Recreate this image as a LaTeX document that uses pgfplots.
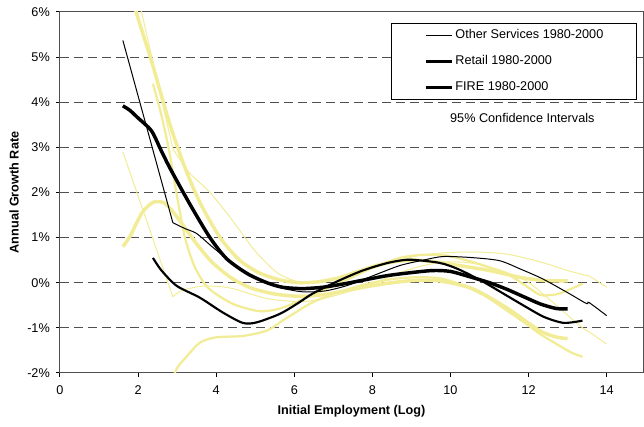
\documentclass[border=0pt]{standalone}
\usepackage{fontspec}
\setmainfont{Liberation Sans}
\usepackage{pgfplots}
\pgfplotsset{compat=1.18}
\definecolor{ciyellow}{RGB}{242,236,150}
\definecolor{gridgray}{RGB}{80,80,80}

\begin{document}
\fontsize{9.5}{11}\selectfont
\begin{tikzpicture}
\begin{axis}[
  scale only axis,
  width=437.25pt, height=270.75pt,
  xmin=0, xmax=14.93, ymin=-2, ymax=6,
  xtick={0,2,...,14},
  ytick={-2,-1,0,1,2,3,4,5,6},
  yticklabels={-2\%,-1\%,0\%,1\%,2\%,3\%,4\%,5\%,6\%},
  /pgf/number format/assume math mode=true,
  tick label style={font=\fontsize{9.5}{11}\selectfont},
  yticklabel style={xshift=-1.3pt},
  xticklabel style={yshift=-3pt},
  xtick pos=lower, ytick pos=left,
  tick align=outside, major tick length=3pt,
  tick style={black, line width=0.75pt},
  axis line style={gridgray, line width=0.75pt},
  ymajorgrids,
  grid style={gridgray, line width=0.75pt, dash pattern=on 7pt off 3.5pt},
  xlabel={\bfseries Initial Employment (Log)},
  ylabel={\bfseries Annual Growth Rate},
  every axis x label/.style={at={(axis description cs:0.5,0)}, anchor=center, yshift=-28.5pt},
  every axis y label/.style={at={(axis description cs:0,0.5)}, xshift=-34.5pt, rotate=90, anchor=center},
  legend style={at={(0.990,0.9695)}, anchor=north east, draw=black, line width=0.75pt,
    fill=white, inner xsep=25pt, inner ysep=4.5pt, row sep=10.5pt, column sep=1.5pt,
    nodes={inner sep=0pt, text height=7pt, text depth=2pt, font=\fontsize{9.5}{11}\selectfont}},
  legend cell align=left,
  legend image code/.code={\draw[#1] (0pt,0pt) -- (19pt,0pt);},
]

% 95% confidence intervals
% Other Services upper / lower (straight first segment, then smooth)
\addplot[ciyellow, line width=0.75pt, forget plot] coordinates {(1.61,7.8) (2.89,2.97)};
\addplot[ciyellow, line width=0.75pt, forget plot, smooth, tension=0.45] coordinates {
 (2.89,2.97) (3.3,2.45) (3.84,2.0) (4.4,1.4) (5.0,0.7)
 (5.6,0.2) (6.2,0.0) (6.8,0.02) (7.4,0.15) (8.0,0.32) (8.7,0.5) (9.3,0.62)
 (10.0,0.67) (10.7,0.68) (11.4,0.64) (12.0,0.53) (12.5,0.41) (13.0,0.27)
 (13.48,0.16) (13.55,0.15) (14.0,-0.1)};
\addplot[ciyellow, line width=0.75pt, forget plot] coordinates {(1.61,2.9) (2.89,-0.31)};
\addplot[ciyellow, line width=0.75pt, forget plot, smooth, tension=0.45] coordinates {
 (2.89,-0.31) (3.1,-0.18) (3.58,-0.08) (4.0,-0.08)
 (4.43,-0.13) (5.3,-0.35) (6.14,-0.42) (6.7,-0.36) (7.3,-0.22) (8.0,-0.02)
 (8.7,0.22) (9.3,0.38) (9.9,0.46) (10.5,0.44) (11.2,0.3) (11.94,0.04)
 (12.6,-0.42) (13.0,-0.72) (13.38,-1.0) (13.48,-1.06) (13.55,-1.09) (14.0,-1.36)};
% Retail upper / lower
\addplot[ciyellow, line width=1.7pt, forget plot, smooth, tension=0.45] coordinates {
 (2.38,4.41) (2.6,3.7) (2.8,2.9) (3.0,1.9) (3.2,1.0) (3.45,0.35) (3.8,-0.12)
 (4.43,-0.47) (5.1,-0.63) (5.6,-0.58) (6.14,-0.4) (6.7,-0.18) (7.3,0.05)
 (8.0,0.33) (8.7,0.55) (9.3,0.62) (9.9,0.6) (10.6,0.45) (11.43,0.2)
 (11.9,-0.05) (12.3,-0.27) (12.7,-0.26) (13.0,-0.17) (13.38,-0.02)};
\addplot[ciyellow, line width=1.7pt, forget plot, smooth, tension=0.45] coordinates {
 (2.38,-3.4) (2.94,-2.0) (3.2,-1.68) (3.58,-1.33) (4.0,-1.21) (4.68,-1.18)
 (5.3,-1.06) (5.7,-0.84) (6.14,-0.6) (6.5,-0.42) (7.0,-0.25) (7.75,-0.05)
 (8.5,0.08) (9.1,0.12) (9.72,0.1) (10.3,-0.05) (10.9,-0.3) (11.5,-0.65)
 (12.0,-0.95) (12.28,-1.13) (12.7,-1.35) (13.1,-1.55) (13.38,-1.64)};
% FIRE upper / lower
\addplot[ciyellow, line width=2.6pt, forget plot, smooth, tension=0.45] coordinates {
 (1.61,7.1) (1.95,6.0) (2.34,4.92) (2.8,3.55) (3.2,2.55) (3.6,1.75) (4.1,1.0)
 (4.6,0.5) (5.1,0.22) (5.6,0.07) (6.1,0.0) (6.6,0.02) (7.1,0.1) (7.6,0.24)
 (8.1,0.38) (8.6,0.47) (9.1,0.5) (9.72,0.45) (10.3,0.37) (11.0,0.27)
 (11.84,0.11) (12.4,0.05) (13.0,0.04)};
\addplot[ciyellow, line width=2.6pt, forget plot, smooth, tension=0.45] coordinates {
 (1.61,0.8) (1.8,1.04) (2.1,1.55) (2.38,1.78) (2.64,1.78) (2.85,1.62)
 (3.07,1.37) (3.5,0.86) (3.9,0.45) (4.4,0.1) (4.9,-0.12) (5.5,-0.25)
 (6.1,-0.3) (6.7,-0.27) (7.3,-0.18) (7.9,-0.08) (8.5,0.0) (9.1,0.05)
 (9.72,0.04) (10.56,-0.13) (11.43,-0.55) (12.28,-1.06) (12.7,-1.2) (13.0,-1.24)};

% estimated growth rates
\addplot[black, line width=0.75pt, forget plot] coordinates {(1.61,5.37) (2.89,1.33)};
\addplot[black, line width=0.75pt, smooth, tension=0.45] coordinates {
 (2.89,1.33) (3.2,1.2) (3.5,1.09) (3.92,0.78)
 (4.4,0.45) (5.0,0.1) (5.6,-0.1) (6.2,-0.2) (6.8,-0.18) (7.4,-0.05)
 (8.0,0.15) (8.7,0.38) (9.3,0.5) (9.8,0.58) (10.5,0.56) (11.25,0.49)
 (11.8,0.3) (12.35,0.09) (13.0,-0.22) (13.48,-0.46) (13.55,-0.44) (14.0,-0.73)};
\addlegendentry{Other Services 1980-2000}
\addplot[black, line width=1.6pt, smooth, tension=0.45] coordinates {
 (2.38,0.55) (2.6,0.27) (2.99,-0.07) (3.58,-0.33) (4.17,-0.66) (4.68,-0.89)
 (5.03,-0.88) (5.63,-0.69) (6.1,-0.45) (6.47,-0.24) (7.1,0.03) (7.75,0.27)
 (8.4,0.44) (8.95,0.51) (9.72,0.44) (10.2,0.3) (10.8,0.04) (11.43,-0.28)
 (11.94,-0.54) (12.4,-0.76) (12.9,-0.89) (13.38,-0.84)};
\addlegendentry{Retail 1980-2000}
\addplot[black, line width=2.6pt, smooth, tension=0.45] coordinates {
 (1.61,3.92) (1.79,3.82) (2.0,3.65) (2.34,3.37) (2.58,2.95) (2.81,2.55)
 (3.32,1.75) (3.84,1.0) (4.27,0.53) (4.8,0.2) (5.3,0.0) (5.7,-0.1)
 (6.2,-0.13) (6.73,-0.1) (7.3,-0.02) (7.9,0.08) (8.4,0.16) (8.95,0.22)
 (9.54,0.27) (10.0,0.25) (10.58,0.11) (11.0,0.0) (11.43,-0.14) (11.9,-0.32)
 (12.3,-0.47) (12.7,-0.57) (13.0,-0.58)};
\addlegendentry{FIRE 1980-2000}

\node[font=\fontsize{9.5}{11}\selectfont] at (axis cs:11.84,3.66) {95\% Confidence Intervals};
\end{axis}
\pgfresetboundingbox
\path ([shift={(-45pt,-40.5pt)}]current axis.south west) rectangle ([shift={(0.75pt,9pt)}]current axis.north east);
\end{tikzpicture}
\end{document}
